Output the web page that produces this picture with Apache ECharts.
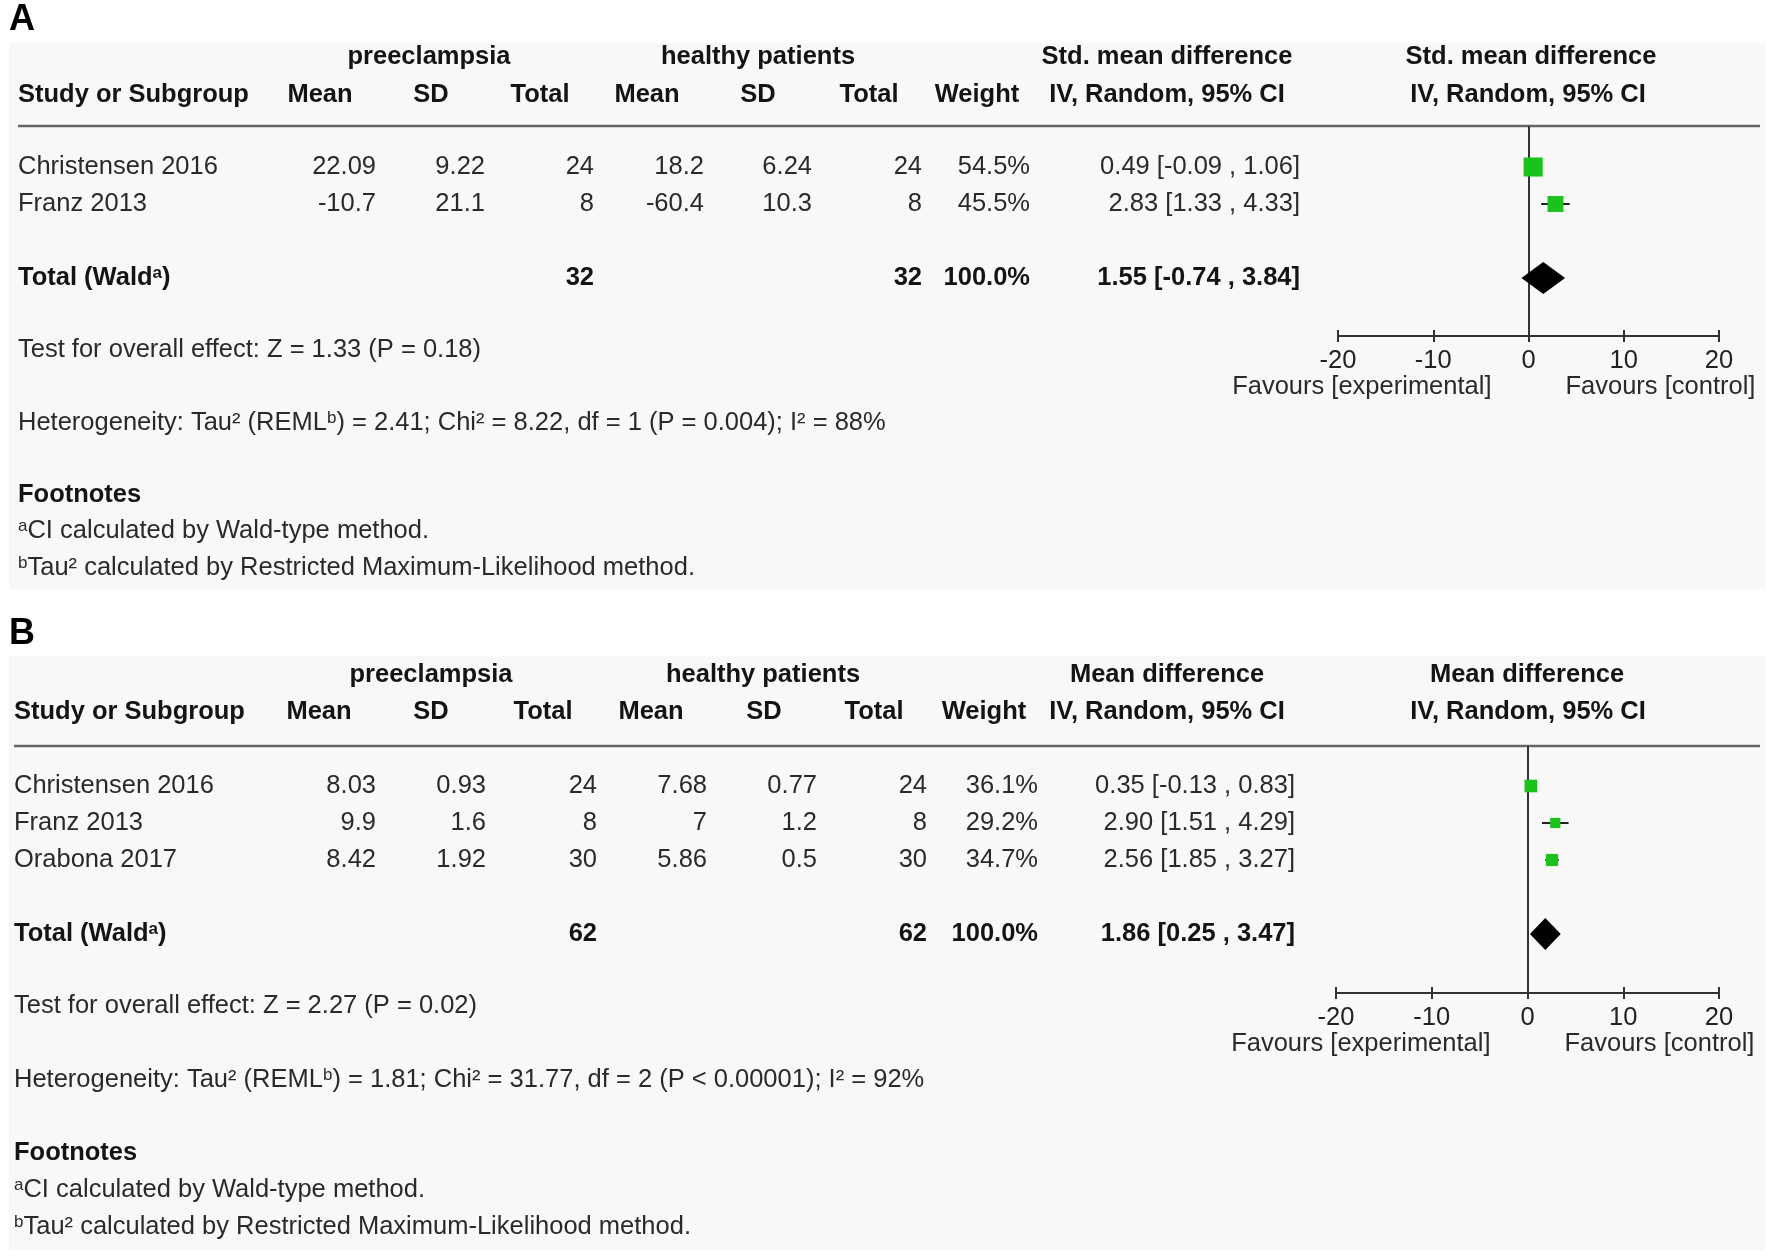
<!DOCTYPE html>
<html><head><meta charset="utf-8">
<script src="https://cdn.jsdelivr.net/npm/echarts@6/dist/echarts.min.js"></script>
<style>html,body{margin:0;padding:0;background:#fff}#c{width:1769px;height:1256px}</style>
</head><body><div id="c"></div>
<script>
// ---------------- DATA: panel A (Std. mean difference) ----------------
const studiesA = ["Christensen 2016", "Franz 2013"];
const preMeanA = [22.09, -10.7];
const preSdA = [9.22, 21.1];
const preNA = [24, 8];
const healthyMeanA = [18.2, -60.4];
const healthySdA = [6.24, 10.3];
const healthyNA = [24, 8];
const weightA = [54.5, 45.5];
const estA = [0.49, 2.83];
const loA = [-0.09, 1.33];
const hiA = [1.06, 4.33];
const totalEstA = [1.55, -0.74, 3.84];          // estimate, lower, upper
const effectTitleA = "Std. mean difference";
const testA = "Test for overall effect: Z = 1.33 (P = 0.18)";
const hetA = "Heterogeneity: Tau² (REML{sup|b}) = 2.41; Chi² = 8.22, df = 1 (P = 0.004); I² = 88%";

// ---------------- DATA: panel B (Mean difference) ----------------
const studiesB = ["Christensen 2016", "Franz 2013", "Orabona 2017"];
const preMeanB = [8.03, 9.9, 8.42];
const preSdB = [0.93, 1.6, 1.92];
const preNB = [24, 8, 30];
const healthyMeanB = [7.68, 7, 5.86];
const healthySdB = [0.77, 1.2, 0.5];
const healthyNB = [24, 8, 30];
const weightB = [36.1, 29.2, 34.7];
const estB = [0.35, 2.90, 2.56];
const loB = [-0.13, 1.51, 1.85];
const hiB = [0.83, 4.29, 3.27];
const totalEstB = [1.86, 0.25, 3.47];
const effectTitleB = "Mean difference";
const testB = "Test for overall effect: Z = 2.27 (P = 0.02)";
const hetB = "Heterogeneity: Tau² (REML{sup|b}) = 1.81; Chi² = 31.77, df = 2 (P < 0.00001); I² = 92%";

// ---------------- shared text ----------------
const groupLabels = ["preeclampsia", "healthy patients"];
const colHeaders = ["Study or Subgroup", "Mean", "SD", "Total", "Mean", "SD", "Total", "Weight", "IV, Random, 95% CI"];
const totalRowLabel = "Total (Wald{sup|a})";
const footTitle = "Footnotes";
const footA = "{sup|a}CI calculated by Wald-type method.";
const footB = "{sup|b}Tau² calculated by Restricted Maximum-Likelihood method.";
const favoursLeft = "Favours [experimental]";
const favoursRight = "Favours [control]";
const xTicks = [-20, -10, 0, 10, 20];

// ---------------- LAYOUT / STYLE ----------------
const FONT = '"Liberation Sans", Arial, sans-serif';
const FS = 25.5;
const ROW_H = 37;
const SQUARE_SCALE = 0.35;
const DIAMOND_H = 32;
const GREEN = '#1cc21c';
const TXT = '#2a2a2a';
const BOLD_TXT = '#141414';

const panels = [
  { label: 'A', studies: studiesA, preMean: preMeanA, preSd: preSdA, preN: preNA,
    hMean: healthyMeanA, hSd: healthySdA, hN: healthyNA, weight: weightA,
    est: estA, lo: loA, hi: hiA, total: totalEstA, effect: effectTitleA, test: testA, het: hetA,
    L: { labelY: 20, bgTop: 43, bgBottom: 589, hdr1Y: 57, hdr2Y: 95, ruleY: 126, firstRowY: 167, axisY: 336,
         gridLeft: 1338, gridRight: 1719, leftX: 18,
         colRight: [376, 485, 594, 704, 812, 922, 1030, 1300],
         colCenter: [320, 431, 540, 647, 758, 869, 977, 1167],
         grpCenter: [429, 758, 1167, 1531], plotHdrX: 1528,
         notesY: [350, 423, 495, 531, 568] } },
  { label: 'B', studies: studiesB, preMean: preMeanB, preSd: preSdB, preN: preNB,
    hMean: healthyMeanB, hSd: healthySdB, hN: healthyNB, weight: weightB,
    est: estB, lo: loB, hi: hiB, total: totalEstB, effect: effectTitleB, test: testB, het: hetB,
    L: { labelY: 634, bgTop: 656, bgBottom: 1250, hdr1Y: 675, hdr2Y: 712, ruleY: 746, firstRowY: 786, axisY: 993,
         gridLeft: 1336, gridRight: 1719, leftX: 14,
         colRight: [376, 486, 597, 707, 817, 927, 1038, 1295],
         colCenter: [319, 431, 543, 651, 764, 874, 984, 1167],
         grpCenter: [431, 763, 1167, 1527], plotHdrX: 1528,
         notesY: [1006, 1080, 1153, 1190, 1227] } }
];

const chart = echarts.init(document.getElementById('c'), null, { renderer: 'canvas', width: 1769, height: 1256 });

function studyRender(params, api) {
  const y = api.value(1);
  const pLo = api.coord([api.value(2), y]);
  const pHi = api.coord([api.value(3), y]);
  const pE = api.coord([api.value(0), y]);
  const s = api.value(4) * SQUARE_SCALE;
  return { type: 'group', children: [
    { type: 'line', shape: { x1: pLo[0], y1: pLo[1], x2: pHi[0], y2: pHi[1] }, style: { stroke: '#222', lineWidth: 2 } },
    { type: 'rect', shape: { x: pE[0] - s / 2, y: pE[1] - s / 2, width: s, height: s }, style: { fill: GREEN } }
  ] };
}
function diamondRender(params, api) {
  const y = api.value(1);
  const l = api.coord([api.value(2), y]);
  const r = api.coord([api.value(3), y]);
  const c = api.coord([api.value(0), y]);
  const hh = DIAMOND_H / 2;
  return { type: 'polygon', shape: { points: [[l[0], l[1]], [c[0], c[1] - hh], [r[0], r[1]], [c[0], c[1] + hh]] }, style: { fill: '#000' } };
}

const grids = [], xAxes = [], yAxes = [], series = [];
panels.forEach((p, i) => {
  const L = p.L;
  grids.push({ left: L.gridLeft, width: L.gridRight - L.gridLeft, top: L.ruleY, height: L.axisY - L.ruleY });
  const axisBase = { gridIndex: i, type: 'value', min: xTicks[0], max: xTicks[xTicks.length - 1], interval: 10,
    position: 'bottom', splitLine: { show: false } };
  xAxes.push(Object.assign({}, axisBase, {
    axisLine: { show: true, onZero: false, lineStyle: { color: '#333', width: 2 } },
    axisTick: { show: true, length: 6, lineStyle: { color: '#333', width: 2 } },
    axisLabel: { fontSize: FS, color: '#222', fontFamily: FONT, margin: 12 }
  }));
  xAxes.push(Object.assign({}, axisBase, {
    axisLine: { show: false, onZero: false },
    axisTick: { show: true, inside: true, length: 6, lineStyle: { color: '#333', width: 2 } },
    axisLabel: { show: false }
  }));
  yAxes.push({ gridIndex: i, type: 'value', inverse: true, show: false,
    min: -(L.firstRowY - L.ruleY) / ROW_H, max: (L.axisY - L.firstRowY) / ROW_H });
  const studyData = p.studies.map((s, k) => [p.est[k], k, p.lo[k], p.hi[k], p.weight[k]]);
  series.push({ type: 'custom', xAxisIndex: i * 2, yAxisIndex: i, renderItem: studyRender, data: studyData,
    encode: { x: [0, 2, 3], y: 1 }, silent: true, z: 5,
    markLine: { silent: true, symbol: 'none', label: { show: false },
      lineStyle: { color: '#333', width: 2, type: 'solid' }, data: [{ xAxis: 0 }] } });
  series.push({ type: 'custom', xAxisIndex: i * 2, yAxisIndex: i, renderItem: diamondRender,
    data: [[p.total[0], p.studies.length + 1, p.total[1], p.total[2]]], encode: { x: [0, 2, 3], y: 1 }, silent: true, z: 6 });
});

chart.setOption({ backgroundColor: '#fff', animation: false, grid: grids, xAxis: xAxes, yAxis: yAxes, series: series });

// ---------------- table text via graphic ----------------
const SUP = { fontSize: 17, verticalAlign: 'top', lineHeight: 17 };
function txt(x, y, text, align, bold, extra) {
  const style = Object.assign({ text: text, x: x, y: y, fill: bold ? BOLD_TXT : TXT, fontSize: FS, fontFamily: FONT,
    fontWeight: bold ? 'bold' : 'normal', align: align, textAlign: align, verticalAlign: 'middle', textVerticalAlign: 'middle',
    rich: { sup: Object.assign({ fontFamily: FONT, fontWeight: bold ? 'bold' : 'normal', fill: bold ? BOLD_TXT : TXT }, SUP) } }, extra || {});
  return { type: 'text', z: 20, silent: true, style: style };
}
const fmt2 = v => v.toFixed(2);
const ciText = (e, l, h) => fmt2(e) + ' [' + fmt2(l) + ' , ' + fmt2(h) + ']';
const sum = a => a.reduce((s, v) => s + v, 0);

const graphics = [];
panels.forEach((p, i) => {
  const L = p.L;
  const rowY = r => chart.convertToPixel({ gridIndex: i }, [0, r])[1];
  const zeroX = chart.convertToPixel({ gridIndex: i }, [0, 0])[0];
  graphics.push({ type: 'rect', z: -5, silent: true, shape: { x: 9, y: L.bgTop, width: 1756, height: L.bgBottom - L.bgTop }, style: { fill: '#f8f8f8' } });
  graphics.push(txt(9, L.labelY, p.label, 'left', true, { fontSize: 36, fill: '#000' }));
  // header rows
  graphics.push(txt(L.grpCenter[0], L.hdr1Y, groupLabels[0], 'center', true));
  graphics.push(txt(L.grpCenter[1], L.hdr1Y, groupLabels[1], 'center', true));
  graphics.push(txt(L.grpCenter[2], L.hdr1Y, p.effect, 'center', true));
  graphics.push(txt(L.grpCenter[3], L.hdr1Y, p.effect, 'center', true));
  graphics.push(txt(L.leftX, L.hdr2Y, colHeaders[0], 'left', true));
  for (let c = 1; c < colHeaders.length; c++) graphics.push(txt(L.colCenter[c - 1], L.hdr2Y, colHeaders[c], 'center', true));
  graphics.push(txt(L.plotHdrX, L.hdr2Y, colHeaders[8], 'center', true));
  // rule
  graphics.push({ type: 'line', z: 4, silent: true, shape: { x1: L.leftX, y1: L.ruleY, x2: 1760, y2: L.ruleY }, style: { stroke: '#666', lineWidth: 2.5 } });
  // study rows
  p.studies.forEach((s, k) => {
    const y = rowY(k);
    graphics.push(txt(L.leftX, y, s, 'left', false));
    const vals = [String(p.preMean[k]), String(p.preSd[k]), String(p.preN[k]), String(p.hMean[k]), String(p.hSd[k]),
      String(p.hN[k]), p.weight[k].toFixed(1) + '%', ciText(p.est[k], p.lo[k], p.hi[k])];
    vals.forEach((v, c) => graphics.push(txt(L.colRight[c], y, v, 'right', false)));
  });
  // total row
  const ty = rowY(p.studies.length + 1);
  graphics.push(txt(L.leftX, ty, totalRowLabel, 'left', true));
  graphics.push(txt(L.colRight[2], ty, String(sum(p.preN)), 'right', true));
  graphics.push(txt(L.colRight[5], ty, String(sum(p.hN)), 'right', true));
  graphics.push(txt(L.colRight[6], ty, sum(p.weight).toFixed(1) + '%', 'right', true));
  graphics.push(txt(L.colRight[7], ty, ciText(p.total[0], p.total[1], p.total[2]), 'right', true));
  // notes
  graphics.push(txt(L.leftX, L.notesY[0], p.test, 'left', false));
  graphics.push(txt(L.leftX, L.notesY[1], p.het, 'left', false));
  graphics.push(txt(L.leftX, L.notesY[2], footTitle, 'left', true));
  graphics.push(txt(L.leftX, L.notesY[3], footA, 'left', false));
  graphics.push(txt(L.leftX, L.notesY[4], footB, 'left', false));
  // favours
  graphics.push(txt(zeroX - 37, L.axisY + 51, favoursLeft, 'right', false));
  graphics.push(txt(zeroX + 37, L.axisY + 51, favoursRight, 'left', false));
});
chart.setOption({ graphic: graphics });
</script>
</body></html>
